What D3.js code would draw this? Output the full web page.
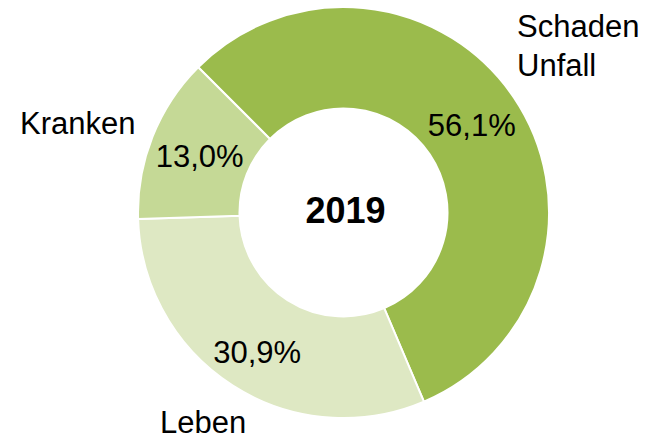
<!DOCTYPE html>
<html>
<head>
<meta charset="utf-8">
<script src="https://cdn.jsdelivr.net/npm/d3@7/dist/d3.min.js"></script>
<style>
  html, body { margin: 0; padding: 0; background: #ffffff; }
  svg { display: block; font-family: "Liberation Sans", Arial, sans-serif; }
</style>
</head>
<body>
<script>
// ---- data ----
const categories = ["Schaden Unfall", "Leben", "Kranken"];
const shares = [56.1, 30.9, 13.0];
const valueLabels = ["56,1%", "30,9%", "13,0%"];
const centerTitle = "2019";
const colors = ["#9bbb4c", "#dee8c3", "#c5d996"];

// ---- layout ----
const W = 654, H = 439;
const cx = 343.5, cy = 212.5;
const outerR = 205.5, innerR = 104;

// category label anchors (text layout)
const catLayout = {
  "Schaden Unfall": { x: 517, y: 37, lines: ["Schaden", "Unfall"] },
  "Leben": { x: 160, y: 433, lines: ["Leben"] },
  "Kranken": { x: 20, y: 134, lines: ["Kranken"] }
};
const valueNudge = [[0, -1], [-3, 9], [0, 1]];

const svg = d3.select("body").append("svg")
  .attr("width", W).attr("height", H);

const g = svg.append("g").attr("transform", `translate(${cx},${cy})`);

const pie = d3.pie().sort(null).value(d => d)
  .startAngle(-Math.PI / 4).endAngle(-Math.PI / 4 + 2 * Math.PI);
const arcs = pie(shares);
const arc = d3.arc().innerRadius(innerR).outerRadius(outerR);

g.selectAll("path.slice").data(arcs).enter().append("path")
  .attr("class", "slice")
  .attr("d", arc)
  .attr("fill", (d, i) => colors[i])
  .attr("stroke", "#ffffff")
  .attr("stroke-width", 2);

g.selectAll("text.val").data(arcs).enter().append("text")
  .attr("class", "val")
  .attr("x", (d, i) => arc.centroid(d)[0] + valueNudge[i][0])
  .attr("y", (d, i) => arc.centroid(d)[1] + valueNudge[i][1])
  .attr("dy", "0.35em")
  .attr("text-anchor", "middle")
  .attr("font-size", 31)
  .attr("fill", "#000")
  .text((d, i) => valueLabels[i]);

g.append("text")
  .attr("x", 2).attr("y", 10)
  .attr("text-anchor", "middle")
  .attr("font-size", 36)
  .attr("font-weight", "bold")
  .attr("fill", "#000")
  .text(centerTitle);

categories.forEach(c => {
  const L = catLayout[c];
  const t = svg.append("text")
    .attr("x", L.x).attr("y", L.y)
    .attr("font-size", 31)
    .attr("fill", "#000");
  L.lines.forEach((ln, j) => {
    t.append("tspan").attr("x", L.x).attr("y", L.y + j * 39).text(ln);
  });
});
</script>
</body>
</html>
